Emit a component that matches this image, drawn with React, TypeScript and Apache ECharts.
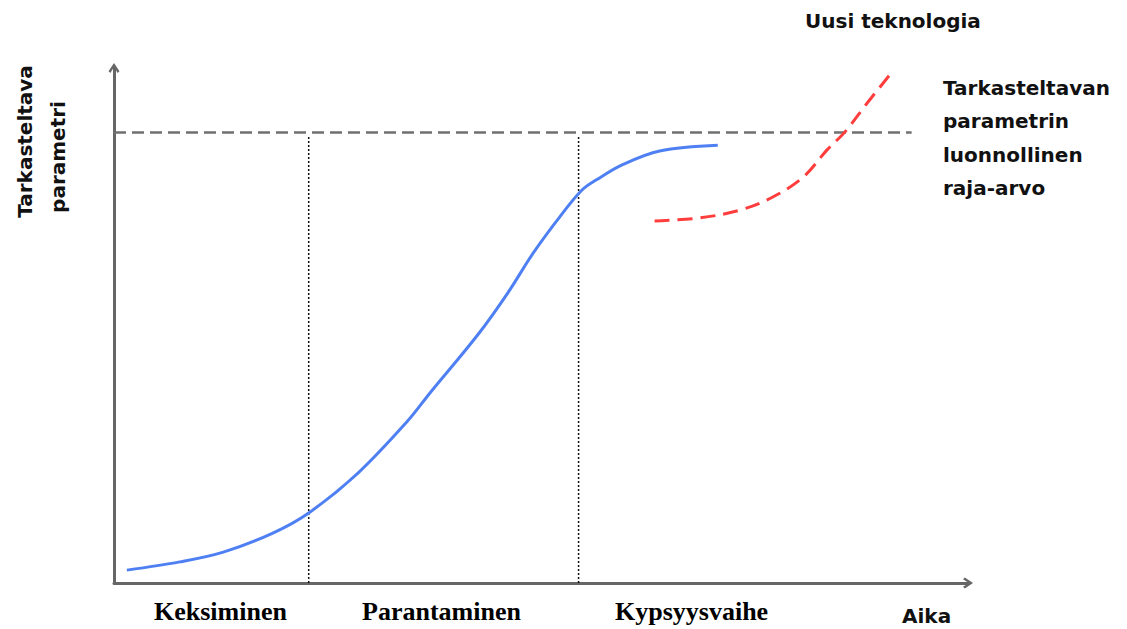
import React, { useEffect, useRef } from "react";
import * as echarts from "echarts";

// Axis domain (time on x, parameter value on y)
const xRange = [0, 100];
const yRange = [0, 100];

// Existing technology S-curve: [time, parameter]
const currentTech: [number, number][] = [
  [1.5, 2.5], [7.7, 4.1], [12.8, 6.0], [18.6, 9.7], [22.8, 13.6], [28.6, 21.4],
  [34.3, 31.3], [37.0, 36.9], [42.6, 48.2], [46.1, 56.3], [49.1, 64.1], [52.2, 71.1],
  [54.8, 76.3], [56.6, 78.4], [59.5, 81.2], [63.9, 83.9], [70.7, 85.0],
];

// New technology curve (dashed red)
const newTech: [number, number][] = [
  [63.3, 70.3], [68.6, 70.9], [73.3, 72.4], [77.2, 75.0], [80.7, 78.8],
  [83.5, 84.1], [85.6, 87.6], [88.2, 93.2], [91.1, 99.2],
];

// Natural limit of the parameter
const limitValue = 87.5;
const limitEnd = 93.4;

// Phase boundaries on the time axis
const phaseBoundaries = [22.8, 54.4];
const phaseLabels = ["Keksiminen", "Parantaminen", "Kypsyysvaihe"];

const xAxisName = "Aika";
const yAxisNameLines = ["Tarkasteltava", "parametri"];
const newTechLabel = "Uusi teknologia";
const limitLabel = "Tarkasteltavan\nparametrin\nluonnollinen\nraja-arvo";

const SANS = "DejaVu Sans";
const SERIF = "Liberation Serif";
const CHEVRON = "path://M6,0 L12,9 L10,11 L6,4.5 L2,11 L0,9 Z";

export default function App() {
  const ref = useRef<HTMLDivElement>(null);

  useEffect(() => {
    if (!ref.current) return;
    const chart = echarts.init(ref.current, undefined, { renderer: "svg" });

    const axisLine = {
      show: true,
      symbol: ["none", CHEVRON],
      symbolSize: [13, 10],
      lineStyle: { color: "#666666", width: 3 },
    };

    const sansText = (text: string, x: number, y: number, extra: any = {}) => ({
      type: "text",
      x,
      y,
      ...extra,
      style: {
        text,
        fontFamily: SANS,
        fontWeight: "bold",
        fontSize: 20,
        fill: "#111111",
        textAlign: "left",
        textVerticalAlign: "middle",
        ...(extra.style || {}),
      },
    });

    const phaseX = [154, 362, 615];

    chart.setOption({
      animation: false,
      backgroundColor: "#ffffff",
      grid: { left: 114, right: 159, top: 68, bottom: 46 },
      xAxis: {
        type: "value",
        min: xRange[0],
        max: xRange[1],
        axisLine,
        axisTick: { show: false },
        axisLabel: { show: false },
        splitLine: { show: false },
      },
      yAxis: {
        type: "value",
        min: yRange[0],
        max: yRange[1],
        axisLine,
        axisTick: { show: false },
        axisLabel: { show: false },
        splitLine: { show: false },
      },
      series: [
        {
          type: "line",
          data: [[0, limitValue], [limitEnd, limitValue]],
          showSymbol: false,
          lineStyle: { color: "#707070", width: 2.5, type: [12, 6] },
          z: 1,
        },
        ...phaseBoundaries.map((b) => ({
          type: "line",
          data: [[b, 0], [b, limitValue - 0.8]],
          showSymbol: false,
          lineStyle: { color: "#111111", width: 1.5, type: [2, 2] },
          z: 1,
        })),
        {
          type: "line",
          data: currentTech,
          smooth: 0.35,
          showSymbol: false,
          lineStyle: { color: "#4f80f3", width: 3 },
          z: 3,
        },
        {
          type: "line",
          data: newTech,
          smooth: 0.35,
          showSymbol: false,
          lineStyle: { color: "#ff3d3d", width: 3, type: [15, 8] },
          z: 3,
        },
      ],
      graphic: [
        sansText(yAxisNameLines[0], 25, 141.5, { rotation: Math.PI / 2, style: { textAlign: "center" } }),
        sansText(yAxisNameLines[1], 58, 157, { rotation: Math.PI / 2, style: { textAlign: "center" } }),
        sansText(newTechLabel, 805, 21),
        sansText(limitLabel, 943, 71, { style: { textVerticalAlign: "top", lineHeight: 33.5 } }),
        sansText(xAxisName, 902, 616),
        ...phaseLabels.map((t, i) => ({
          type: "text",
          x: phaseX[i],
          y: 611,
          style: {
            text: t,
            fontFamily: SERIF,
            fontWeight: "bold",
            fontSize: 26,
            fill: "#000000",
            textAlign: "left",
            textVerticalAlign: "middle",
          },
        })),
      ],
    });

    return () => chart.dispose();
  }, []);

  return (
    <div
      ref={ref}
      style={{ position: "fixed", left: 0, top: 0, width: 1127, height: 629, background: "#fff" }}
    />
  );
}
